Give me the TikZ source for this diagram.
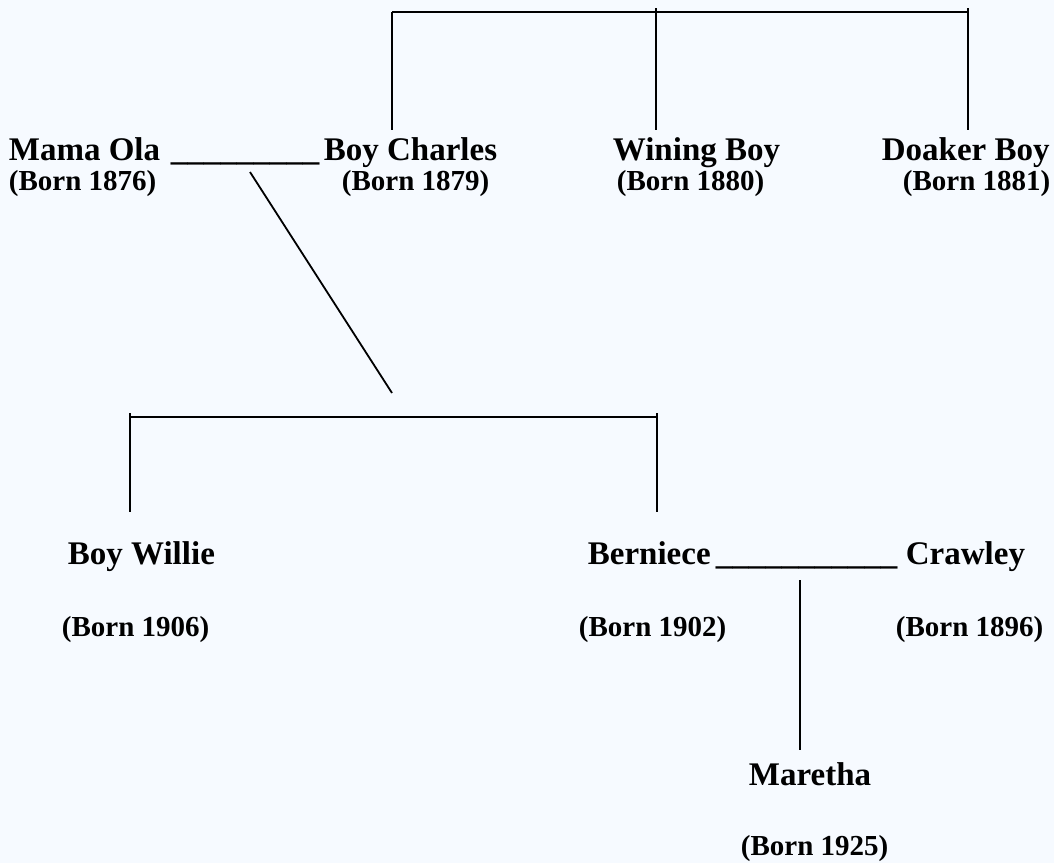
\documentclass[tikz,border=0pt]{standalone}
\usepackage{fontspec}
\setmainfont{Liberation Serif}
\definecolor{pagebg}{RGB}{246,250,255}
\begin{document}
\begin{tikzpicture}[x=1pt, y=-1pt, line width=1.8pt,
	every node/.style={inner sep=0pt, anchor=base west},
	person/.style={font=\fontsize{33}{40}\selectfont\bfseries},
	born/.style={font=\fontsize{29}{35}\selectfont\bfseries}]
	% 0. 背景与边界
	\fill[pagebg] (0,0) rectangle (1054,863);
	\useasboundingbox (0,0) rectangle (1054,863);
	
	% 1. 第一代人物
	\node[person] (mamaola) at (8,160) {Mama Ola};
	\node[person] (olaline) at (170,160) {\_\_\_\_\_\_\_\_\_};
	\node[person] (charles) at (323,160) {Boy Charles};
	\node[person] (wining) at (612,160) {Wining Boy};
	\node[person] (doaker) at (881,160) {Doaker Boy};
	\node[born] (olaborn) at (8,190) {(Born 1876)};
	\node[born] (charlesborn) at (341,190) {(Born 1879)};
	\node[born] (winingborn) at (616,190) {(Born 1880)};
	\node[born] (doakerborn) at (902,190) {(Born 1881)};
	
	% 2. 第二代与第三代人物
	\node[person] (willie) at (67,564) {Boy Willie};
	\node[person] (berniece) at (587,564) {Berniece};
	\node[person] (bernline) at (715,564) {\_\_\_\_\_\_\_\_\_\_\_};
	\node[person] (crawley) at (905,564) {Crawley};
	\node[born] (willieborn) at (61,636) {(Born 1906)};
	\node[born] (bernieceborn) at (578,636) {(Born 1902)};
	\node[born] (crawleyborn) at (895,636) {(Born 1896)};
	\node[person] (maretha) at (748,785) {Maretha};
	\node[born] (marethaborn) at (740,855) {(Born 1925)};
	
	% 3. 连线端点
	\coordinate (sibtopL) at (392,12);
	\coordinate (sibtopM) at (656,8);
	\coordinate (sibtopR) at (968,8);
	\coordinate (sibL) at (392,130);
	\coordinate (sibM) at (656,130);
	\coordinate (sibR) at (968,130);
	\coordinate (olafrom) at (250,172);
	\coordinate (olato) at (392,393);
	\coordinate (kidtopL) at (130,413);
	\coordinate (kidtopR) at (657,413);
	\coordinate (kidL) at (130,512);
	\coordinate (kidR) at (657,512);
	\coordinate (bernfrom) at (800,580);
	\coordinate (bernto) at (800,750);
	
	% 4. 兄弟与子女连线
	\draw (sibtopL) -- (sibtopL -| sibtopR);
	\draw (sibtopL) -- (sibL);
	\draw (sibtopM) -- (sibM);
	\draw (sibtopR) -- (sibR);
	\draw (olafrom) -- (olato);
	\draw ([yshift=-4pt]kidtopL) -- ([yshift=-4pt]kidtopR);
	\draw (kidtopL) -- (kidL);
	\draw (kidtopR) -- (kidR);
	\draw (bernfrom) -- (bernto);
\end{tikzpicture}
\end{document}
